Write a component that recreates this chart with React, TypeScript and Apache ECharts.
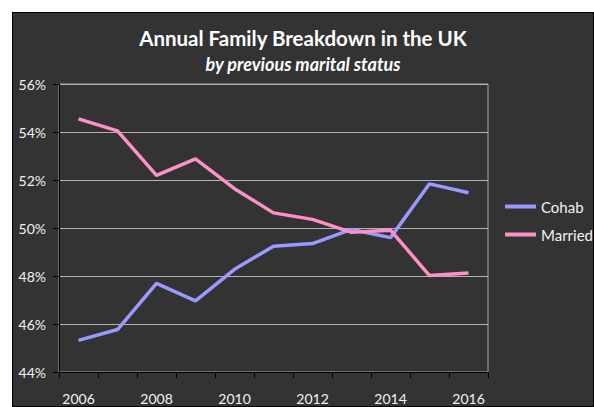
import React, { useEffect, useRef } from "react";
import * as echarts from "echarts";

const years = ["2006", "2007", "2008", "2009", "2010", "2011", "2012", "2013", "2014", "2015", "2016"];
const cohab = [45.32, 45.77, 47.69, 46.96, 48.28, 49.24, 49.35, 49.94, 49.6, 51.84, 51.47];
const married = [54.55, 54.05, 52.19, 52.88, 51.64, 50.63, 50.36, 49.82, 49.91, 48.02, 48.12];
const yTicks = { min: 44, max: 56, step: 2 };

const FONT = "Lato, 'Noto Sans', sans-serif";

export default function App() {
  const ref = useRef<HTMLDivElement>(null);
  useEffect(() => {
    if (!ref.current) return;
    const chart = echarts.init(ref.current, null, { renderer: "svg" });
    chart.setOption({
      animation: false,
      backgroundColor: "#333333",
      title: [
        {
          text: "Annual Family Breakdown in the UK",
          left: "center",
          top: 9,
          textStyle: { color: "#ffffff", fontSize: 20.5, fontWeight: "bold", fontFamily: FONT },
        },
        {
          text: "by previous marital status",
          left: "center",
          top: 37,
          textStyle: { color: "#ffffff", fontSize: 18, fontWeight: "bold", fontStyle: "italic", fontFamily: FONT },
        },
      ],
      legend: {
        orient: "vertical",
        left: 487,
        top: 181,
        icon: "rect",
        itemWidth: 31,
        itemHeight: 4,
        itemGap: 13,
        textStyle: { color: "#f2f2f2", fontSize: 15, fontFamily: FONT },
        data: ["Cohab", "Married"],
      },
      grid: {
        left: 46,
        right: 105,
        top: 71,
        bottom: 34,
        show: true,
        borderColor: "#a6a6a6",
        borderWidth: 1,
        backgroundColor: "transparent",
      },
      xAxis: {
        type: "category",
        data: years,
        boundaryGap: true,
        axisLine: { lineStyle: { color: "#000000", width: 1 } },
        axisTick: { show: true, interval: 0, length: 6, lineStyle: { color: "#000000" } },
        axisLabel: { interval: 1, color: "#f2f2f2", fontSize: 14, fontFamily: FONT, margin: 19 },
        splitLine: { show: false },
      },
      yAxis: {
        type: "value",
        min: yTicks.min,
        max: yTicks.max,
        interval: yTicks.step,
        axisLine: { show: true, lineStyle: { color: "#000000", width: 1 } },
        axisTick: { show: true, length: 6, lineStyle: { color: "#000000" } },
        axisLabel: {
          color: "#f2f2f2",
          fontSize: 14,
          fontFamily: FONT,
          margin: 13,
          formatter: (v: number) => v + "%",
        },
        splitLine: { show: true, lineStyle: { color: "#b3b3b3", width: 1 } },
      },
      series: [
        {
          name: "Cohab",
          type: "line",
          data: cohab,
          symbol: "none",
          itemStyle: { color: "#9999ff" },
          lineStyle: { color: "#9999ff", width: 3.5 },
        },
        {
          name: "Married",
          type: "line",
          data: married,
          symbol: "none",
          itemStyle: { color: "#ff8fc8" },
          lineStyle: { color: "#ff8fc8", width: 3.5 },
        },
      ],
    });
    return () => chart.dispose();
  }, []);
  return (
    <div
      ref={ref}
      style={{
        position: "absolute",
        left: 12,
        top: 12,
        width: 582,
        height: 395,
        boxSizing: "border-box",
        border: "1px solid #000",
      }}
    />
  );
}
